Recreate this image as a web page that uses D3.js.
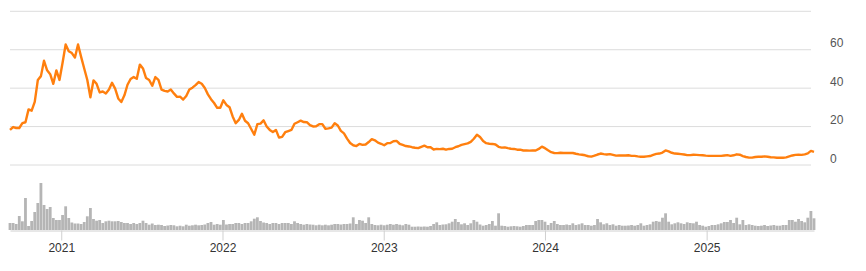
<!DOCTYPE html>
<html>
<head>
<meta charset="utf-8">
<script src="https://cdn.jsdelivr.net/npm/d3@7"></script>
<style>
  body { margin: 0; background: #fff; }
  text { font-family: Arial, "Liberation Sans", sans-serif; }
</style>
</head>
<body>
<div id="chart"></div>
<script>
// weekly closes, first week starting 2020-09-07
const startDate = "2020-09-07";

const price = [
  18, 19.5, 19, 19, 21.5, 22, 28.7, 28, 32.6, 44,
  46, 54, 49, 47, 42, 49, 44, 53, 62.5, 59,
  58, 55.7, 62.5, 56, 50, 44, 35, 43.8, 42, 37.5,
  38, 37, 39, 42.5, 39.5, 34.4, 32.5, 36, 41.5, 44.5,
  45.5, 44.6, 52, 50, 45, 44, 41, 45.5, 44, 39,
  38.3, 38, 39, 37, 35.2, 35.3, 33.8, 35.7, 39, 40,
  41.3, 42.9, 42, 39.8, 36.5, 34, 32, 29.5, 29.5, 33.4,
  31, 29.8, 25, 21.5, 23.2, 26.4, 22.8, 21.5, 18.5, 15.5,
  21, 21.3, 23, 19.8, 18, 16.9, 18, 14, 14.4, 16.8,
  17.4, 18, 21.2, 22, 22.8, 22.1, 22, 20.5, 19.8, 19.9,
  21, 21, 18.6, 18.8, 19.2, 21.5, 20.3, 17.5, 16.2, 13.5,
  11.2, 10, 9.6, 10.7, 10.2, 10.4, 11.7, 13.2, 12.6, 11.4,
  10.8, 10, 11.1, 11.2, 12.1, 12.3, 10.8, 10.2, 9.6, 9.4,
  9, 8.7, 8.5, 9.2, 9.8, 9, 9, 7.8, 8.1, 8,
  8.2, 7.7, 8.1, 8.2, 9, 9.5, 10.2, 10.6, 11, 11.8,
  13.4, 15.5, 14.3, 12.2, 11.1, 10.8, 10.7, 10.4, 9.2, 8.8,
  8.9, 8.5, 8.2, 8.1, 7.7, 7.7, 7.3, 7.3, 7.2, 7.3,
  7.3, 8.1, 9.3, 8.5, 7.4, 6.4, 6, 5.9, 6.1, 6,
  6, 6, 6, 5.6, 5.3, 5.1, 4.8, 4.3, 4.1, 4.6,
  5.2, 5.7, 5.4, 5.2, 5.4, 5, 4.6, 4.7, 4.7, 4.7,
  4.8, 4.5, 4.5, 4.2, 4, 4, 4.2, 4.4, 5, 5.5,
  5.7, 6.2, 7.3, 6.8, 6.1, 5.7, 5.6, 5.4, 5.2, 4.9,
  4.9, 5.1, 5, 4.9, 4.8, 4.6, 4.5, 4.5, 4.5, 4.5,
  4.5, 4.7, 4.9, 4.5, 4.8, 5.3, 5.1, 4.4, 3.9, 3.6,
  3.6, 3.9, 4, 4, 4.2, 4, 3.8, 3.7, 3.5, 3.5,
  3.5, 3.7, 4.2, 4.7, 5, 5.1, 5, 5.3, 5.8, 7.1,
  6.6
];

// weekly volume, millions
const volume = [
  7, 7, 6, 14, 8.7, 32, 4, 9, 18, 27,
  47, 25, 21, 23, 12, 10, 10, 15, 23.7, 12,
  7.5, 6.5, 6.5, 6, 8, 13.7, 22, 11, 9.3, 10,
  7, 8.7, 9.3, 8.7, 8.7, 9, 8, 7, 7, 6,
  7, 6, 7, 9.3, 7, 5.3, 6.5, 5, 5.3, 5,
  4, 4.5, 5, 4.7, 3.7, 4.3, 3.7, 5.3, 4.3, 4.7,
  5.3, 4.7, 5, 5.5, 7, 8, 5.3, 6, 5.3, 10,
  5.5, 6, 6, 7, 7, 6, 7, 7, 8.7, 11.3,
  12.7, 9, 7.5, 7, 6, 7, 7, 6, 7, 7,
  7, 6, 8.7, 7, 6, 5.3, 6, 5.5, 5.3, 4.7,
  5.3, 4.7, 5.3, 4.7, 5.3, 6, 6, 5.5, 6, 6,
  6.5, 12.7, 6, 10, 9.3, 7, 12.7, 6, 5, 4.7,
  5.3, 4.7, 5.3, 6, 5.3, 6, 5.3, 4.7, 6, 5.3,
  3.3, 3.3, 3.5, 3.3, 3.5, 3.3, 4, 6, 7.7, 5,
  5.5, 5.7, 6.7, 8.3, 11, 8, 5.7, 6.7, 5, 6.7,
  10, 8.3, 5.5, 4.3, 5, 6, 9, 4.3, 16.7, 4.3,
  4, 3.3, 3.7, 4, 3.7, 3.3, 4, 5, 5, 5,
  9, 10, 10, 8.3, 5, 7, 9, 6, 5, 5,
  5.5, 5, 6.7, 5, 5.7, 6.7, 5, 5, 4.3, 5,
  11, 7.7, 5.7, 6.7, 5, 5.7, 4.3, 5, 4.3, 4.3,
  4.5, 5, 4.3, 5, 6.7, 4.3, 5, 5.7, 8.3, 9,
  8.3, 12.3, 16.7, 8.3, 5.7, 6.7, 7.7, 6.7, 6, 7.7,
  7, 6.7, 8.3, 5, 4.3, 3.3, 4, 5, 5, 5.7,
  6.7, 8, 8, 10, 7, 12.3, 5.7, 10, 5, 5.7,
  5, 4.3, 4, 4.3, 5, 4, 4.5, 5, 4.3, 4.3,
  5, 5, 10, 10, 8.3, 11, 9, 7.7, 12.3, 19,
  11.7
];

const priceTicks = [0, 20, 40, 60, 80];
const priceLabels = ["0", "20", "40", "60", ""];

const width = 866;
const height = 271;

const svg = d3.select("#chart")
  .append("svg")
  .attr("width", width)
  .attr("height", height);

const start = d3.timeParse("%Y-%m-%d")(startDate);
const dates = price.map((d, i) => d3.timeDay.offset(start, 7 * i));

const x = d3.scaleTime()
  .domain(d3.extent(dates))
  .range([10, 814]);

const y = d3.scaleLinear()
  .domain([0, 80])
  .range([164.5, 10.8]);

const yVol = d3.scaleLinear()
  .domain([0, d3.max(volume)])
  .range([230, 183]);

// gridlines + right labels
const yAxis = svg.append("g")
  .attr("transform", "translate(811,0)")
  .call(d3.axisRight(y)
    .tickValues(priceTicks)
    .tickSize(-801)
    .tickPadding(19)
    .tickFormat((d, i) => priceLabels[i]));
yAxis.select(".domain").remove();
yAxis.selectAll(".tick line").attr("stroke", "#dcdcdc");
yAxis.selectAll(".tick text")
  .attr("dy", "-0.2em")
  .attr("fill", "#555")
  .style("font-size", "12px");

// volume bars
svg.append("g")
  .selectAll("rect")
  .data(volume)
  .join("rect")
  .attr("x", (d, i) => x(dates[i]) - 1.4)
  .attr("width", 2.8)
  .attr("y", d => yVol(d))
  .attr("height", d => yVol(0) - yVol(d))
  .attr("fill", "#b5b5b5");

// time axis
const xAxis = svg.append("g")
  .attr("transform", "translate(0,230.5)")
  .call(d3.axisBottom(x)
    .ticks(d3.timeYear.every(1))
    .tickFormat(d3.timeFormat("%Y"))
    .tickSize(10)
    .tickSizeOuter(0));
xAxis.select(".domain").attr("stroke", "#d0d0d0");
xAxis.selectAll(".tick line").attr("stroke", "#d0d0d0");
xAxis.selectAll(".tick text")
  .attr("fill", "#333")
  .style("font-size", "12px");

// price line
const line = d3.line()
  .x((d, i) => x(dates[i]))
  .y(d => y(d));

svg.append("path")
  .datum(price)
  .attr("fill", "none")
  .attr("stroke", "#ff7f0e")
  .attr("stroke-width", 2.4)
  .attr("stroke-linejoin", "round")
  .attr("d", line);
</script>
</body>
</html>
